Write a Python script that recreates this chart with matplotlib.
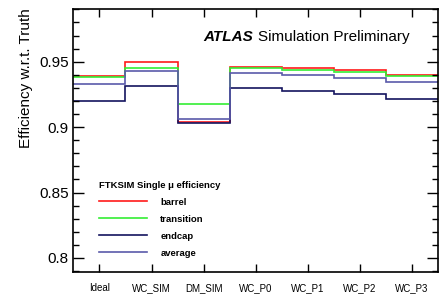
import numpy as np
import matplotlib
matplotlib.use("Agg")
import matplotlib.pyplot as plt
from matplotlib.ticker import MultipleLocator

# data
configs = ["Ideal", "WC_SIM", "DM_SIM", "WC_P0", "WC_P1", "WC_P2", "WC_P3"]
barrel = [0.9390, 0.9495, 0.9037, 0.9462, 0.9454, 0.9439, 0.9401]
transition = [0.9385, 0.9454, 0.9179, 0.9449, 0.9436, 0.9424, 0.9388]
endcap = [0.9200, 0.9312, 0.9030, 0.9299, 0.9278, 0.9255, 0.9215]
average = [0.9330, 0.9431, 0.9064, 0.9411, 0.9396, 0.9378, 0.9345]

series = [("barrel", barrel, "#ff1a1a"),
          ("transition", transition, "#33ee33"),
          ("endcap", endcap, "#14145f"),
          ("average", average, "#5a5aaa")]

plt.rcParams["font.family"] = ["Liberation Sans", "DejaVu Sans"]

fig = plt.figure(figsize=(4.42, 2.94), dpi=100)
ax = fig.add_axes([0.166, 0.076, 0.825, 0.892])

edges = np.arange(len(configs) + 1)
handles = []
for name, vals, col in series:
    h = ax.stairs(vals, edges, baseline=None, color=col, linewidth=1.2, label=name)
    handles.append(h)

ax.set_xlim(0, len(configs))
ax.set_ylim(0.7895, 0.99)

# ticks (ROOT style, inward on all sides)
ax.set_xticks(np.arange(len(configs)) + 0.5)
ax.set_xticklabels(configs, fontsize=7)
ax.yaxis.set_major_locator(MultipleLocator(0.05))
ax.yaxis.set_minor_locator(MultipleLocator(0.01))
ax.set_yticks([0.8, 0.85, 0.9, 0.95])
ax.set_yticklabels(["0.8", "0.85", "0.9", "0.95"], fontsize=11)
ax.tick_params(axis="both", which="both", direction="in", top=True, right=True)
ax.tick_params(axis="y", which="major", length=8, width=1)
ax.tick_params(axis="y", which="minor", length=4, width=1)
ax.tick_params(axis="x", which="major", length=6, width=1, pad=8)
for sp in ax.spines.values():
    sp.set_linewidth(1.2)

# y label, aligned to top of axis (ROOT style)
ax.set_ylabel("Efficiency w.r.t. Truth", fontsize=11)
ax.yaxis.set_label_coords(-0.13, 1.005)
ax.yaxis.label.set_rotation_mode("anchor")
ax.yaxis.label.set_horizontalalignment("right")
ax.yaxis.label.set_verticalalignment("center")

# ATLAS label
ax.text(0.355, 0.881, "ATLAS", transform=ax.transAxes, fontsize=11,
        fontweight="bold", fontstyle="italic", va="baseline")
ax.text(0.506, 0.881, "Simulation Preliminary", transform=ax.transAxes,
        fontsize=11, va="baseline")

# legend
leg = ax.legend(handles=handles, loc="upper left", bbox_to_anchor=(0.07, 0.347),
                frameon=False, fontsize=6.8, title="FTKSIM Single \u03bc efficiency",
                title_fontsize=6.8, handlelength=5.1, handletextpad=1.4,
                labelspacing=0.85, borderpad=0, borderaxespad=0)
leg._legend_box.align = "left"
leg.get_title().set_fontweight("bold")
for t in leg.get_texts():
    t.set_fontweight("bold")

fig.savefig("out.png", dpi=100)
